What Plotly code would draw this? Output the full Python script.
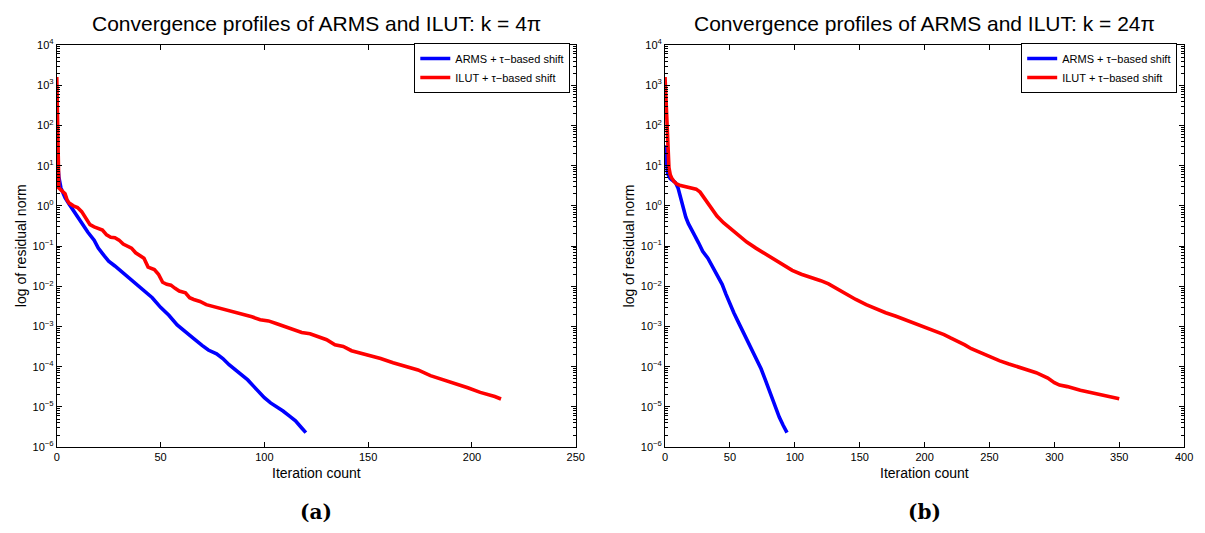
import plotly.graph_objects as go

W, H = 1205, 533

# ---------------- data ----------------
# (a) k = 4*pi
arms_a_iter = [0, 1, 2, 4, 6, 8, 11, 13, 15, 18, 20, 23, 25, 28, 30, 33, 36, 39, 42, 46,
               50, 54, 58, 62, 66, 70, 73, 77, 80, 83, 87, 90, 92, 95, 98, 100, 103, 106,
               109, 112, 115, 118, 120]
arms_a_res = [20, 5.2, 2.8, 1.6, 1.1, 0.76, 0.47, 0.33, 0.22, 0.14, 0.089, 0.056, 0.042,
              0.032, 0.026, 0.019, 0.014, 0.0105, 0.0079, 0.0052, 0.003, 0.0019, 0.0011,
              7.6e-4, 5.0e-4, 3.4e-4, 2.6e-4, 2.1e-4, 1.6e-4, 1.12e-4, 7.6e-5, 5.6e-5,
              4.7e-5, 3.2e-5, 2.2e-5, 1.7e-5, 1.26e-5, 1.02e-5, 7.9e-6, 6.0e-6, 4.5e-6,
              3.0e-6, 2.3e-6]

ilut_a_iter = [0, 1, 2, 3, 4, 5, 6, 8, 10, 12, 14, 16, 18, 20, 22, 24, 26, 28, 30, 32, 34,
               36, 38, 40, 42, 44, 47, 49, 51, 53, 55, 57, 59, 62, 64, 66, 69, 72, 75, 78,
               82, 86, 90, 94, 98, 102, 106, 110, 114, 118, 122, 126, 130, 134, 138, 142,
               146, 150, 156, 162, 168, 174, 180, 186, 192, 198, 204, 208, 211, 214]
ilut_a_res = [1600, 2.8, 2.5, 2.3, 2.0, 1.4, 1.17, 1.0, 0.91, 0.72, 0.5, 0.34, 0.30, 0.28,
              0.25, 0.19, 0.166, 0.162, 0.141, 0.112, 0.1, 0.089, 0.068, 0.06, 0.05, 0.030,
              0.026, 0.02, 0.0126, 0.0112, 0.0107, 0.0089, 0.0076, 0.0069, 0.0052, 0.0047,
              0.0042, 0.0035, 0.0032, 0.0028, 0.0025, 0.0022, 0.002, 0.00174, 0.00148,
              0.00138, 0.00117, 0.001, 8.5e-4, 7.1e-4, 6.6e-4, 5.5e-4, 4.7e-4, 3.5e-4,
              3.2e-4, 2.5e-4, 2.2e-4, 1.95e-4, 1.6e-4, 1.26e-4, 1.02e-4, 8.3e-5, 6.0e-5,
              4.8e-5, 3.8e-5, 3.0e-5, 2.3e-5, 2.04e-5, 1.82e-5, 1.58e-5]

# (b) k = 24*pi
arms_b_iter = [0, 1, 2, 4, 6, 8, 10, 12, 14, 16, 18, 20, 23, 26, 29, 33, 37, 41, 44, 47,
               50, 53, 56, 60, 65, 70, 74, 77, 80, 84, 88, 91, 94]
arms_b_res = [32, 10, 6.3, 4.8, 4.3, 3.8, 2.8, 1.6, 0.79, 0.52, 0.36, 0.28, 0.18, 0.117,
              0.074, 0.05, 0.03, 0.018, 0.0112, 0.0063, 0.0035, 0.0022, 0.00138, 7.6e-4,
              3.7e-4, 1.8e-4, 8.9e-5, 5.0e-5, 2.7e-5, 1.2e-5, 5.6e-6, 3.5e-6, 2.3e-6]

ilut_b_iter = [0, 1, 2, 3, 4, 5, 7, 9, 12, 16, 20, 24, 27, 30, 33, 36, 40, 45, 50, 57, 63,
               70, 76, 82, 90, 98, 105, 113, 120, 126, 132, 138, 147, 155, 162, 170, 178,
               186, 193, 200, 209, 215, 220, 226, 231, 236, 242, 250, 258, 265, 275, 286,
               295, 300, 304, 310, 320, 330, 340, 350]
ilut_b_res = [1600, 250, 20, 8.9, 6.0, 5.0, 4.0, 3.5, 3.2, 3.0, 2.8, 2.6, 2.2, 1.6, 1.1,
              0.79, 0.56, 0.38, 0.28, 0.18, 0.126, 0.089, 0.068, 0.05, 0.035, 0.025, 0.02,
              0.0166, 0.0138, 0.0115, 0.0089, 0.0066, 0.0047, 0.0035, 0.0028, 0.0022,
              0.0018, 0.00145, 0.00117, 9.5e-4, 7.6e-4, 6.3e-4, 5.2e-4, 4.3e-4, 3.5e-4,
              2.8e-4, 2.3e-4, 1.8e-4, 1.4e-4, 1.17e-4, 9.3e-5, 7.1e-5, 5.2e-5, 4.0e-5,
              3.5e-5, 3.2e-5, 2.6e-5, 2.2e-5, 1.9e-5, 1.6e-5]

series_names = ["ARMS + τ−based shift", "ILUT + τ−based shift"]
titles = ["Convergence profiles of ARMS and ILUT: k = 4π",
          "Convergence profiles of ARMS and ILUT: k = 24π"]
captions = ["(a)", "(b)"]
xlabel = "Iteration count"
ylabel = "log of residual norm"
y_exponents = [-6, -5, -4, -3, -2, -1, 0, 1, 2, 3, 4]
x_ranges = [[0, 250], [0, 400]]

# ---------------- layout helpers ----------------
def px(x):
    return x / W

def py(y):
    return 1 - y / H

FONT = "Liberation Sans, Arial, Helvetica, sans-serif"
BLUE, RED = "#0000FF", "#FF0000"
LW = 3.6

y_tickvals = [10.0 ** e for e in y_exponents]
y_ticktext = ["10<sup>%s</sup>" % (str(e).replace("-", "−")) for e in y_exponents]
y_minor = [m * 10.0 ** e for e in y_exponents[:-1] for m in range(2, 10)]

fig = go.Figure()

data = [(arms_a_iter, arms_a_res, ilut_a_iter, ilut_a_res, "x", "y", "legend"),
        (arms_b_iter, arms_b_res, ilut_b_iter, ilut_b_res, "x2", "y2", "legend2")]
for ai, ar, ii, ir, xa, ya, lg in data:
    fig.add_trace(go.Scatter(x=ai, y=ar, mode="lines", name=series_names[0],
                             line=dict(color=BLUE, width=LW), xaxis=xa, yaxis=ya,
                             legend=lg))
    fig.add_trace(go.Scatter(x=ii, y=ir, mode="lines", name=series_names[1],
                             line=dict(color=RED, width=LW), xaxis=xa, yaxis=ya,
                             legend=lg))

frames = [(54.3, 578.5), (668.7, 1193.0)]
top, bottom = 38.0, 451.0

common_x = dict(showline=True, linecolor="black", linewidth=1, mirror="ticks",
                ticks="inside", ticklen=5, tickcolor="black", showgrid=False,
                zeroline=False, tickfont=dict(family=FONT, size=11, color="black"),
                dtick=50, tick0=0)
common_y = dict(type="log", range=[-6, 4], showline=True, linecolor="black", linewidth=1,
                mirror="ticks", ticks="inside", ticklen=5, tickcolor="black",
                showgrid=False, zeroline=False,
                tickfont=dict(family=FONT, size=11, color="black"),
                tickmode="array", tickvals=y_tickvals, ticktext=y_ticktext,
                minor=dict(tickmode="array", tickvals=y_minor, ticks="inside", ticklen=3,
                           tickcolor="black", showgrid=False))

legend_common = dict(xanchor="right", yanchor="top", bgcolor="white",
                     bordercolor="black", borderwidth=1,
                     font=dict(family=FONT, size=11, color="black"), tracegroupgap=0)

fig.update_layout(
    width=W, height=H, margin=dict(l=0, r=0, t=0, b=0),
    paper_bgcolor="white", plot_bgcolor="white",
    xaxis=dict(domain=[px(frames[0][0]), px(frames[0][1])], range=x_ranges[0],
               anchor="y", **common_x),
    yaxis=dict(domain=[py(bottom), py(top)], anchor="x", **common_y),
    xaxis2=dict(domain=[px(frames[1][0]), px(frames[1][1])], range=x_ranges[1],
                anchor="y2", **common_x),
    yaxis2=dict(domain=[py(bottom), py(top)], anchor="x2", **common_y),
    legend=dict(x=px(573), y=py(36), **legend_common),
    legend2=dict(x=px(1186), y=py(36), **legend_common),
    showlegend=True,
)

annotations = []
for i, (x0, x1) in enumerate(frames):
    cx = (x0 + x1) / 2
    annotations.append(dict(text=titles[i], x=px(cx), y=py(16), xref="paper", yref="paper",
                            showarrow=False, xanchor="center", yanchor="middle",
                            font=dict(family=FONT, size=21, color="black")))
    annotations.append(dict(text=xlabel, x=px(cx), y=py(478), xref="paper", yref="paper",
                            showarrow=False, xanchor="center", yanchor="middle",
                            font=dict(family=FONT, size=14, color="black")))
    annotations.append(dict(text=ylabel, x=px(x0 - 36), y=py((top + bottom) / 2),
                            xref="paper", yref="paper", showarrow=False, textangle=-90,
                            xanchor="center", yanchor="middle",
                            font=dict(family=FONT, size=14, color="black")))
    annotations.append(dict(text="<b>%s</b>" % captions[i], x=px(cx), y=py(518),
                            xref="paper", yref="paper", showarrow=False,
                            xanchor="center", yanchor="middle",
                            font=dict(family="DejaVu Serif, serif", size=20,
                                      color="black")))
fig.update_layout(annotations=annotations)

fig.write_html("out.html")
